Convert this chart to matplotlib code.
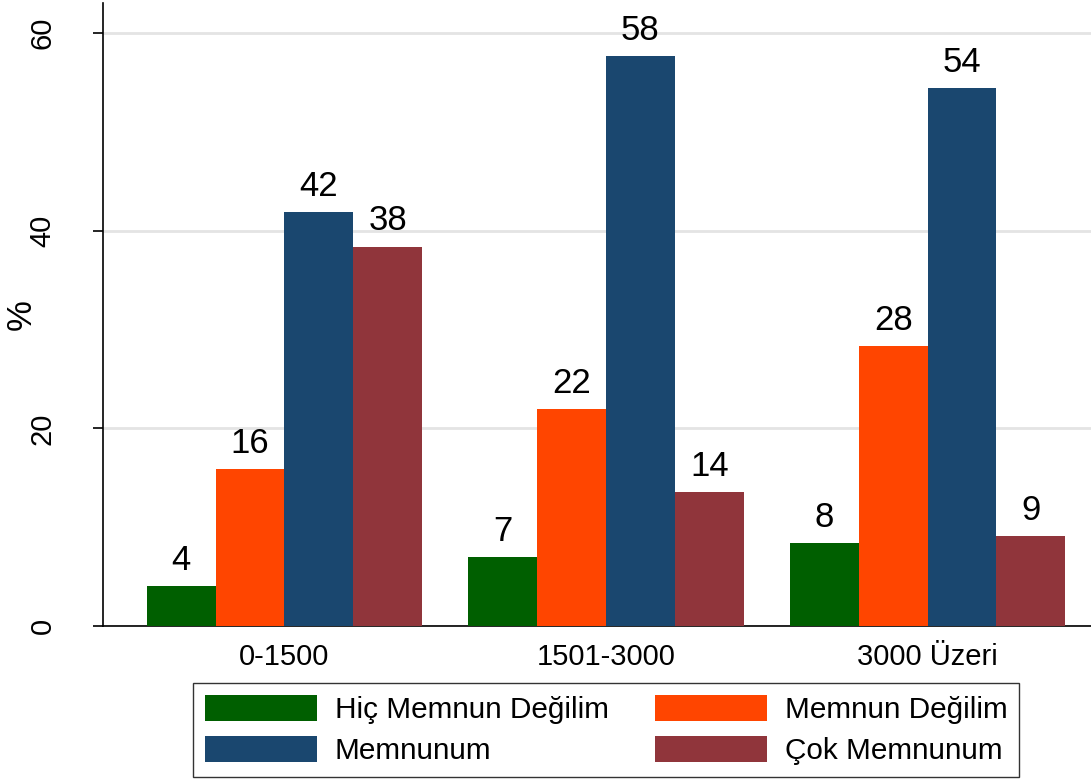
import matplotlib
matplotlib.use("Agg")
import matplotlib.pyplot as plt
import numpy as np

categories = ["0-1500", "1501-3000", "3000 Üzeri"]
series_names = ["Hiç Memnun Değilim", "Memnun Değilim", "Memnunum", "Çok Memnunum"]
hic_memnun_degilim = [4.05, 6.98, 8.4]
memnun_degilim = [15.9, 21.96, 28.33]
memnunum = [41.9, 57.7, 54.4]
cok_memnunum = [38.4, 13.56, 9.1]
colors = ["#005f00", "#ff4500", "#1a476f", "#90353b"]
yticks = [0, 20, 40, 60]

plt.rcParams['font.family'] = ['Liberation Sans', 'DejaVu Sans']

fig = plt.figure(figsize=(10.91, 7.79), dpi=100)
ax = fig.add_axes([103/1091, 1-626/779, 1-103/1091, (626-3)/779])

series = [hic_memnun_degilim, memnun_degilim, memnunum, cok_memnunum]
x = np.arange(len(categories))
w = 0.214
handles = []
for i, (vals, col, name) in enumerate(zip(series, colors, series_names)):
    pos = x + (i - 1.5) * w
    b = ax.bar(pos, vals, width=w, color=col, label=name, zorder=3, linewidth=0)
    handles.append(b)
    for px, v in zip(pos, vals):
        ax.annotate(f"{round(v):d}", (px, v), xytext=(0, 6.5), textcoords="offset points",
                    ha="center", va="bottom", fontsize=25, color="black")

ax.set_xlim(-0.564, 2.508)
ax.set_ylim(0, 63.04)
ax.set_yticks(yticks)
ax.set_yticklabels([str(t) for t in yticks], rotation=90, va="center", fontsize=21)
ax.set_xticks(x)
ax.set_xticklabels(categories, fontsize=21)
ax.tick_params(axis="x", length=0, pad=12)
ax.tick_params(axis="y", length=7.5, width=1.2, pad=26)
ax.set_ylabel("%", fontsize=25)
ax.yaxis.set_label_coords((38 - 103) / 988, 0.5)
ax.grid(axis="y", color="#e4e4e4", linewidth=2, zorder=0)
for s in ["top", "right"]:
    ax.spines[s].set_visible(False)
ax.spines["left"].set_linewidth(1.2)
ax.spines["bottom"].set_linewidth(1.2)

order = [0, 2, 1, 3]
leg = fig.legend([handles[i] for i in order], [series_names[i] for i in order], ncol=2,
                 loc="upper left", bbox_to_anchor=(193/1091, 1 - 683/779),
                 fontsize=21.4, frameon=True, fancybox=False,
                 handlelength=3.77, handleheight=1.0, handletextpad=0.6,
                 columnspacing=1.55, borderpad=0.4, labelspacing=0.38, borderaxespad=0)
leg.get_frame().set_edgecolor("black")
leg.get_frame().set_linewidth(1.0)

fig.savefig("out.png", dpi=100, facecolor="white")
